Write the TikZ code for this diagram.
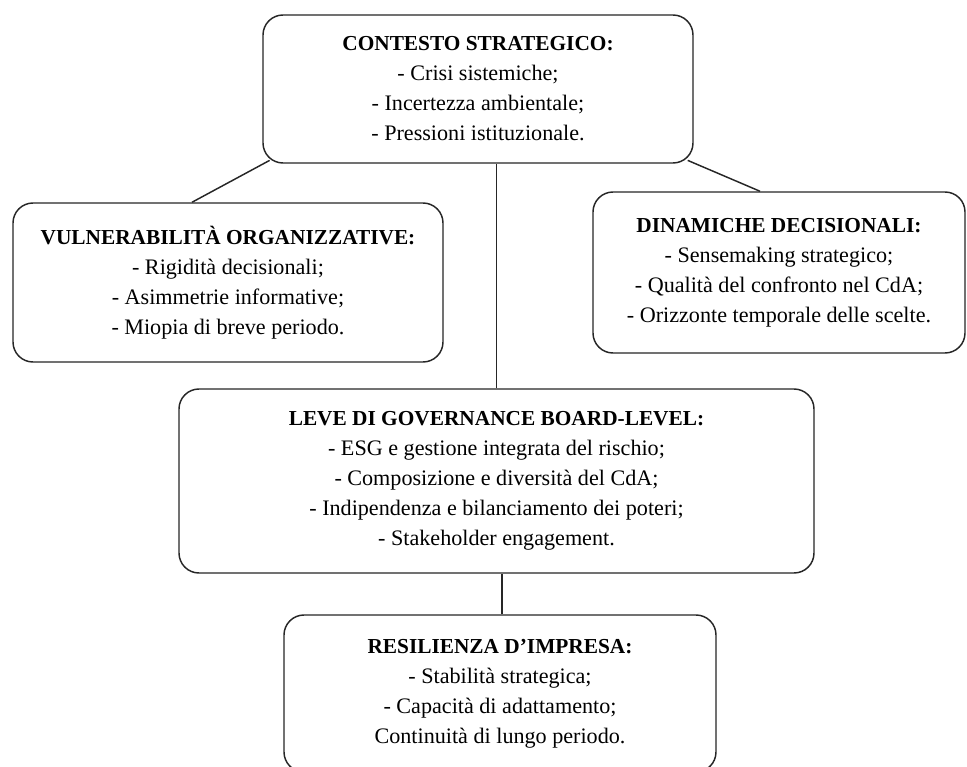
\documentclass[tikz,border=0pt]{standalone}
\usepackage{fontspec}
\setmainfont{Liberation Serif}
\newcommand{\ttl}[1]{{\fontsize{16}{22.5}\selectfont\bfseries #1}}
\tikzset{
  box/.style={draw=black!85, line width=1.1pt, rounded corners=15pt, align=center,
    inner sep=0pt, fill=white, font=\fontsize{16.6}{22.5}\selectfont},
  conn/.style={draw=black!85, line width=1.1pt}
}
\begin{document}
\begin{tikzpicture}[x=0.75pt,y=-0.75pt]
\useasboundingbox (0,0) rectangle (967,767);
\node[box, minimum width=322.5pt, minimum height=111pt] (b1) at (478,89)
  {\ttl{CONTESTO STRATEGICO:}\\- Crisi sistemiche;\\- Incertezza ambientale;\\- Pressioni istituzionale.};
\node[box, minimum width=322.5pt, minimum height=119.25pt] (b2) at (228,282.5)
  {\ttl{VULNERABILITÀ ORGANIZZATIVE:}\\- Rigidità decisionali;\\- Asimmetrie informative;\\- Miopia di breve periodo.};
\node[box, minimum width=279pt, minimum height=120.75pt] (b3) at (779,272.5)
  {\ttl{DINAMICHE DECISIONALI:}\\- Sensemaking strategico;\\- Qualità del confronto nel CdA;\\- Orizzonte temporale delle scelte.};
\node[box, minimum width=476.25pt, minimum height=138pt] (b4) at (496.5,481)
  {\ttl{LEVE DI GOVERNANCE BOARD-LEVEL:}\\- ESG e gestione integrata del rischio;\\- Composizione e diversità del CdA;\\- Indipendenza e bilanciamento dei poteri;\\- Stakeholder engagement.};
\node[box, minimum width=324pt, minimum height=117.75pt] (b5) at (500,693.5)
  {\ttl{RESILIENZA D’IMPRESA:}\\- Stabilità strategica;\\- Capacità di adattamento;\\Continuità di lungo periodo.};
\draw[conn] ([xshift=5.5pt,yshift=2.5pt]b1.south west) -- ([xshift=-27pt]b2.north);
\draw[conn] ([xshift=-4.5pt,yshift=2.5pt]b1.south east) -- ([xshift=-14.25pt]b3.north);
\draw[conn] (b4.north) -- (b4.north |- b1.south);
\draw[conn] ([xshift=1.5pt]b5.north) -- ([xshift=1.5pt]b5.north |- b4.south);
\end{tikzpicture}
\end{document}
